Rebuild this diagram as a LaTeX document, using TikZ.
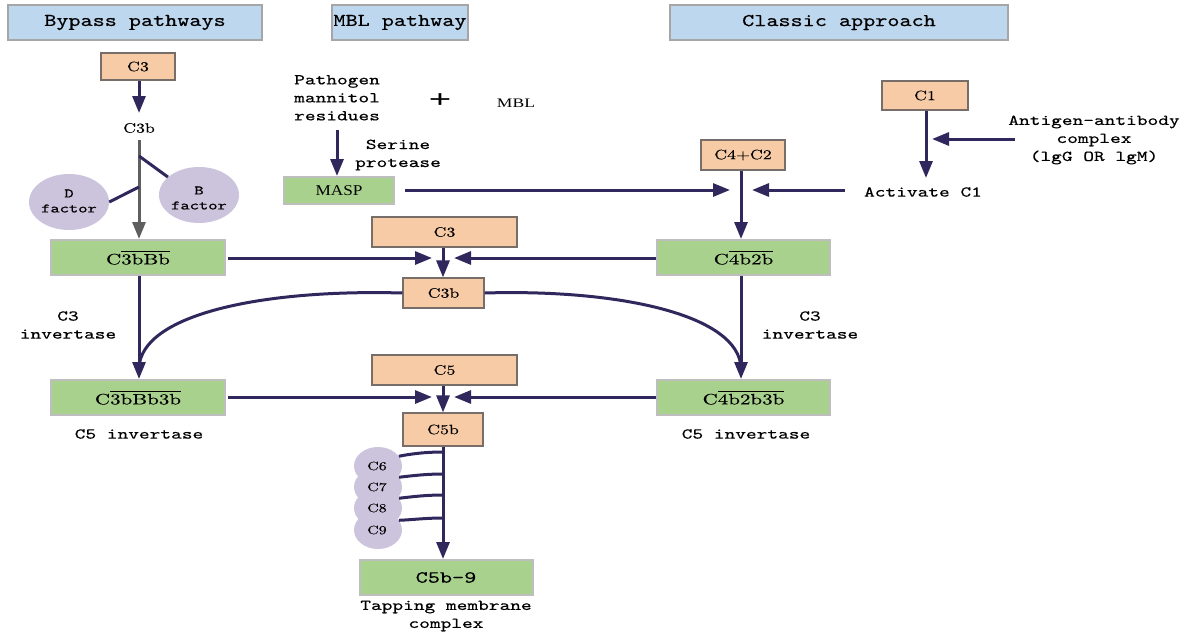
\documentclass[tikz,border=0pt]{standalone}
\usepackage{fontspec}
\usetikzlibrary{arrows.meta,shapes.geometric}
\newfontfamily\lblfont[FakeStretch=1.36,FakeBold=0.5]{lmmono10-regular.otf}
\newfontfamily\hdrfont[FakeStretch=1.28,FakeBold=0.5]{lmmono10-regular.otf}
\newfontfamily\boxfont[FakeStretch=1.32,FakeBold=0.3]{lmroman10-regular.otf}
\newfontfamily\gfont[FakeStretch=1.4,FakeBold=0.3]{lmroman10-regular.otf}
\newfontfamily\tmsfont[FakeStretch=1.15]{Liberation Serif}
\newfontfamily\mblfont[FakeStretch=1.35]{Liberation Serif}
\newfontfamily\plusfont[FakeStretch=1.6]{Liberation Sans}
\newcommand{\ovl}[1]{$\overline{\hbox{\rule{0pt}{0.8em}#1}}$}
\definecolor{navy}{RGB}{48,40,92}
\definecolor{hdrblue}{RGB}{189,215,238}
\definecolor{hdrgray}{RGB}{166,166,166}
\definecolor{peach}{RGB}{248,203,167}
\definecolor{peachline}{RGB}{120,110,105}
\definecolor{leaf}{RGB}{169,209,142}
\definecolor{leafline}{RGB}{190,190,190}
\definecolor{lilac}{RGB}{204,195,221}
\definecolor{darkgray}{RGB}{95,95,95}
\tikzset{
  hdr/.style={draw=hdrgray, line width=2, fill=hdrblue, minimum height=35, inner sep=0,
    font=\hdrfont\fontsize{18}{20}\selectfont},
  obox/.style={draw=peachline, line width=1.2, fill=peach, inner sep=0,
    font=\boxfont\fontsize{13.5}{16}\selectfont},
  gbox/.style={draw=leafline, line width=2, fill=leaf, inner sep=0,
    font=\gfont\fontsize{15}{18}\selectfont},
  lbl/.style={inner sep=0, align=center, font=\lblfont\fontsize{15}{18}\selectfont},
  blob/.style={ellipse, fill=lilac, inner sep=0},
  arr/.style={draw=navy, line width=3, -{Triangle[length=17,width=13]}},
  garr/.style={draw=darkgray, line width=3, -{Triangle[length=17,width=13]}},
  ln/.style={draw=navy, line width=3},
}
\begin{document}
\begin{tikzpicture}[x=1pt,y=-1pt]
\useasboundingbox (0,0) rectangle (1186,634);
% headers
\node[hdr, minimum width=254] (h1) at (135,22.5) {Bypass pathways};
\node[hdr, minimum width=136] (h2) at (400,22.5) {MBL pathway};
\node[hdr, minimum width=338] (h3) at (839,22.5) {Classic approach};
% bypass
\node[obox, minimum width=74, minimum height=27] (c3a) at (138,66.5) {C3};
\node[inner sep=0, font=\boxfont\fontsize{13.5}{16}\selectfont] (c3ba) at (139,128) {C3b};
\node[blob, minimum width=80, minimum height=56] (dfac) at (69,202) {};
\node[lbl, font=\lblfont\fontsize{13}{15}\selectfont] at (69,201) {D\\factor};
\node[blob, minimum width=80, minimum height=56] (bfac) at (199,195) {};
\node[lbl, font=\lblfont\fontsize{13}{15}\selectfont] at (199,198) {B\\factor};
\node[gbox, minimum width=174, minimum height=35] (g1) at (138,257.5) {C\ovl{3bBb}};
\node[gbox, minimum width=174, minimum height=35] (g2) at (138,397.5) {C\ovl{3bBb3b}};
\node[lbl] (inv1) at (68,325) {C3\\invertase};
\node[lbl] (c5inv1) at (139,434) {C5 invertase};
% MBL
\node[lbl, align=left, anchor=north west] (path) at (294,75) {Pathogen\\mannitol\\residues};
\node[inner sep=0, font=\plusfont\fontsize{24}{24}\selectfont] (plus) at (440,101) {+};
\node[inner sep=0, font=\mblfont\fontsize{13}{15}\selectfont] (mbl) at (516,103) {MBL};
\node[lbl] (serine) at (398,155) {Serine\\protease};
\node[gbox, minimum width=110, minimum height=27, font=\tmsfont\fontsize{15}{18}\selectfont] (masp) at (339,190.5) {MASP};
\node[obox, minimum width=145, minimum height=30] (c3m) at (444.5,232) {C3};
\node[obox, minimum width=81, minimum height=30] (c3bm) at (443.5,293) {C3b};
\node[obox, minimum width=145, minimum height=30] (c5m) at (444.5,370) {C5};
\node[obox, minimum width=80, minimum height=33] (c5b) at (443,429.5) {C5b};
\node[blob, minimum width=48, minimum height=38] (c9) at (378,530) {};
\node[blob, minimum width=48, minimum height=38] (c8) at (378,508) {};
\node[blob, minimum width=48, minimum height=38] (c7) at (378,487) {};
\node[blob, minimum width=48, minimum height=38] (c6) at (378,466) {};
\foreach \n/\y in {6/466,7/487,8/508,9/530}{
  \node[inner sep=0, font=\boxfont\fontsize{12}{15}\selectfont] at (377,\y) {C\n};
}
\node[gbox, minimum width=173, minimum height=35, font=\lblfont\fontsize{17}{21}\selectfont] (c5b9) at (446,577.5) {C5b-9};
\node[lbl] (tap) at (446,616) {Tapping membrane\\complex};
% classic
\node[obox, minimum width=86, minimum height=29] (c1) at (925,95.5) {C1};
\node[obox, minimum width=84, minimum height=30] (c4c2) at (743,155) {C4+C2};
\node[lbl] (ag) at (1094,140) {Antigen-antibody\\complex\\(lgG OR lgM)};
\node[lbl] (act) at (923,192) {Activate C1};
\node[gbox, minimum width=173, minimum height=35] (g3) at (743.5,257.5) {C\ovl{4b2b}};
\node[gbox, minimum width=173, minimum height=35] (g4) at (743.5,397.5) {C\ovl{4b2b3b}};
\node[lbl] (inv2) at (810,325) {C3\\invertase};
\node[lbl] (c5inv2) at (746,434) {C5 invertase};
% coordinates
\coordinate (j1) at (443,258);
\coordinate (j2) at (443,397);
\coordinate (j3) at (741,190);
\coordinate (k1) at (926,139);
% connectors
\draw[arr] (c3a.south -| 139,0) -- (139,113);
\draw[garr] (139,140) -- (g1.north -| 139,0);
\draw[ln] (139,156) -- (bfac.150);
\draw[ln] (139,187) -- (dfac.east);
\draw[arr] (g1.south -| 139,0) -- (g2.north -| 139,0);
\draw[arr] (337,130) -- (masp.north -| 337,0);
\draw[arr] (masp.east |- j3) ++(10,0) -- ([xshift=-11]j3);
\draw[arr] (845,190) -- ([xshift=11]j3);
\draw[arr] (c4c2.south -| j3) -- (g3.north -| j3);
\draw[arr] (c1.south -| k1) -- (926,178);
\draw[arr] (1015,139) -- ([xshift=6]k1);
\draw[arr] (g1.east |- j1) ++(2,0) -- ([xshift=-11]j1);
\draw[arr] (g3.west |- j1) -- ([xshift=11]j1);
\draw[arr] (c3m.south -| j1) -- (c3bm.north -| j1);
\draw[arr] (g3.south -| j3) -- (g4.north -| j3);
\draw[ln] (c3bm.west) .. controls (260,289) and (141,315) .. (139,368);
\draw[ln] (c3bm.east) .. controls (620,289) and (739,315) .. (741,368);
\draw[arr] (g2.east |- j2) ++(2,0) -- ([xshift=-11]j2);
\draw[arr] (g4.west |- j2) -- ([xshift=11]j2);
\draw[arr] (c5m.south -| j2) -- (c5b.north -| j2);
\draw[arr] (c5b.south) -- (c5b9.north -| c5b.south);
\draw[ln] (c6.25) .. controls (410,454) and (425,452) .. (443,452);
\draw[ln] (c7.25) .. controls (410,476) and (425,474) .. (443,474);
\draw[ln] (c8.25) .. controls (410,497) and (425,495) .. (443,495);
\draw[ln] (c9.25) .. controls (410,520) and (425,518) .. (443,518);
\end{tikzpicture}
\end{document}
